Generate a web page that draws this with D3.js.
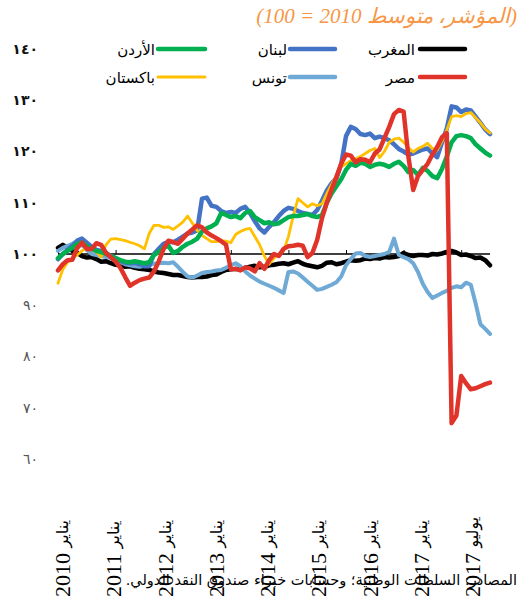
<!DOCTYPE html>
<html><head><meta charset="utf-8">
<script src="https://cdn.jsdelivr.net/npm/d3@7/dist/d3.min.js"></script>
<style>body{margin:0;background:#fff}svg{display:block}</style>
</head><body>
<svg id="c" width="520" height="603"></svg>
<script>
// ---- data (monthly index, Jan 2010 = first point, 2010 average = 100) ----
const morocco = [101.2,101.8,101.2,100.6,100.2,99.6,99.3,99.4,99.0,98.5,98.6,98.2,97.9,97.8,97.5,97.6,97.3,97.1,97.0,96.9,96.6,96.4,96.3,96.1,95.9,95.9,95.7,95.5,95.4,95.5,95.5,95.6,95.9,96.0,96.5,96.9,97.0,97.1,97.0,97.3,97.5,97.7,97.4,97.5,97.8,97.9,98.1,98.2,98.0,98.3,98.6,98.1,97.8,97.6,97.4,97.7,98.3,98.4,98.0,98.2,98.5,98.8,98.7,98.8,99.1,99.0,99.2,99.1,99.4,99.3,99.4,99.6,100.2,99.8,99.6,99.8,99.8,99.7,100.0,99.9,100.1,100.4,100.6,100.3,99.8,99.9,99.6,99.2,99.3,98.8,97.8];
const tunisia = [100.6,101.2,101.6,102.0,102.5,101.8,100.8,100.0,99.8,99.6,99.4,99.2,98.8,98.4,98.0,97.8,97.6,97.5,97.7,97.9,98.1,98.2,98.3,98.2,98.4,97.5,96.5,95.6,95.4,95.8,96.3,96.5,96.6,96.8,96.9,97.3,97.8,98.2,97.6,96.6,95.8,95.2,94.6,94.2,93.8,93.4,92.9,92.4,96.5,96.6,96.2,95.4,94.6,93.8,93.0,93.2,93.6,94.0,94.5,95.6,97.8,99.0,100.1,100.2,99.6,99.4,99.6,99.8,100.0,100.4,103.0,99.8,99.4,99.0,98.2,96.5,94.2,92.6,91.4,91.9,92.4,92.8,93.4,93.7,93.5,94.4,94.0,90.4,86.3,85.4,84.4];
const pakistan = [94.3,97.0,98.4,99.2,99.8,100.6,101.2,100.8,100.4,99.4,101.8,102.9,103.0,102.8,102.6,102.3,102.0,101.6,101.0,104.0,105.6,105.6,105.2,105.3,104.8,105.5,106.2,107.4,106.0,104.6,103.6,103.0,102.4,102.4,102.6,102.5,102.2,103.8,104.4,104.8,105.0,103.4,101.8,99.6,98.0,99.2,100.0,100.6,103.4,107.4,110.8,110.0,109.2,109.8,109.4,109.8,111.8,113.6,115.4,117.0,117.6,118.2,118.6,119.0,119.6,120.2,120.6,118.8,120.0,121.8,122.4,122.6,121.8,120.8,119.9,120.6,121.0,121.6,120.6,120.3,122.0,124.2,126.8,127.0,126.8,127.4,127.6,126.6,125.6,124.4,123.6];
const lebanon = [99.0,100.0,100.8,101.6,102.6,103.0,102.2,101.4,100.8,100.6,100.2,99.6,99.2,98.6,98.3,98.2,98.3,98.0,97.6,97.6,100.0,101.0,102.0,102.4,102.3,102.8,103.4,104.0,104.2,104.6,110.8,111.0,109.4,109.2,108.4,108.0,108.2,108.0,108.8,109.2,108.0,106.4,105.0,104.2,105.3,106.2,107.4,108.4,109.0,108.8,108.4,108.0,107.8,107.6,108.6,110.4,112.4,113.8,114.8,117.5,123.0,124.8,124.4,123.4,123.2,123.5,122.6,122.9,122.6,122.2,121.4,120.5,120.0,119.4,119.6,120.0,120.4,120.6,119.6,118.9,121.8,124.5,128.8,128.6,127.7,128.2,128.0,126.8,125.6,124.3,123.4];
const jordan = [99.2,100.0,100.6,101.2,102.0,102.2,101.6,101.0,100.6,100.4,100.0,99.6,99.2,98.8,98.5,98.4,98.6,98.4,98.2,98.4,99.8,100.4,101.2,101.6,100.2,100.6,101.4,102.0,102.4,103.0,104.4,105.0,105.4,106.0,108.0,107.6,107.2,107.4,107.0,108.0,108.4,107.2,106.6,106.0,106.2,105.8,106.0,106.6,107.2,107.4,107.4,107.6,107.8,107.4,107.2,107.6,110.0,111.8,113.2,114.6,116.4,117.6,117.2,117.8,117.6,117.0,117.4,117.6,117.4,117.0,117.6,118.0,117.2,116.0,116.4,115.4,116.8,116.2,115.2,114.8,116.6,119.0,121.8,123.0,123.2,123.0,122.6,121.4,120.6,119.8,119.2];
const egypt = [96.8,98.0,98.8,98.9,101.2,102.2,101.0,101.0,102.1,101.8,100.2,99.4,98.5,97.3,95.5,93.8,94.4,94.9,95.2,95.4,96.6,98.6,101.0,102.6,102.3,102.0,103.0,104.0,104.8,105.6,105.2,104.2,103.6,103.1,102.5,101.8,97.0,97.1,96.8,97.4,97.2,96.6,98.2,97.1,98.8,100.0,99.6,101.0,101.5,101.6,101.8,101.6,99.4,100.2,102.8,107.0,110.0,112.6,115.0,117.6,119.4,119.2,117.9,118.5,118.4,117.9,119.6,120.4,122.6,124.8,127.3,128.1,127.8,119.0,112.5,115.2,116.4,117.6,119.4,120.9,122.8,123.6,67.0,68.5,76.2,74.8,73.6,73.8,74.2,74.6,74.9];

const seriesNames = ["المغرب","لبنان","الأردن","مصر","تونس","باكستان"];
const xLabelMonths = ["يناير","يناير","يناير","يناير","يناير","يناير","يناير","يناير","يوليو"];
const xLabelYears = ["2010","2011","2012","2013","2014","2015","2016","2017","2017"];
const yTicks = [60,70,80,90,100,110,120,130,140];
const title = "(المؤشر، متوسط 2010 = 100)";
const source = "المصادر: السلطات الوطنية؛ وحسابات خبراء صندوق النقد الدولي.";

// ---- drawing ----
const svg = d3.select("#c");
const n = morocco.length;
const x = d3.scaleLinear().domain([0, n-1]).range([58, 490]);
const y = d3.scaleLinear().domain([60, 140]).range([459, 49]);
const xl = d3.scalePoint().domain(d3.range(xLabelYears.length)).range([62, 472]);
const arDigits = s => String(s).replace(/[0-9]/g, d => "٠١٢٣٤٥٦٧٨٩"[+d]);

// title
svg.append("text").attr("x", 517).attr("y", 23).attr("text-anchor", "end")
  .attr("font-family", "Liberation Serif, DejaVu Sans").attr("font-style", "italic")
  .attr("font-size", 21).attr("fill", "#F79646").text(title);

// y tick labels
const yAxis = d3.axisLeft(y).tickValues(yTicks).tickSize(0).tickFormat(arDigits);
const gy = svg.append("g").attr("transform", "translate(38,0)").call(yAxis);
gy.select(".domain").remove();
gy.selectAll("text").attr("font-family", "DejaVu Sans").attr("font-size", 14)
  .attr("font-weight", d => d >= 100 ? "bold" : "normal")
  .attr("fill", d => d >= 100 ? "#111" : "#555").attr("x", 0);

// reference line at 100 with yearly ticks
const gx = svg.append("g").attr("transform", `translate(0,${y(100)})`)
  .call(d3.axisTop(x).tickValues(d3.range(0, n, 12)).tickSize(4).tickFormat(""));
gx.select(".domain").attr("d", `M${x(0)},0H${x(n-1)}`).attr("stroke", "#000").attr("stroke-width", 1.5);
gx.selectAll(".tick line").attr("stroke", "#000").attr("stroke-width", 1);

// series
const colors = {morocco:"#000000", lebanon:"#4472C4", jordan:"#00B050", egypt:"#E0342B", tunisia:"#6FAAD6", pakistan:"#FFC000"};
const widths = {morocco:4.5, lebanon:4.5, jordan:4.5, egypt:4.5, tunisia:4, pakistan:2.8};
const line = d3.line().x((d,i) => x(i)).y(d => y(d));
const order = [["morocco",morocco],["tunisia",tunisia],["lebanon",lebanon],["pakistan",pakistan],["jordan",jordan],["egypt",egypt]];
order.forEach(([k, data]) => {
  svg.append("path").datum(data).attr("d", line).attr("fill", "none")
    .attr("stroke", colors[k]).attr("stroke-width", widths[k])
    .attr("stroke-linejoin", "round").attr("stroke-linecap", "round");
});

// legend
const legendKeys = ["morocco","lebanon","jordan","egypt","tunisia","pakistan"];
const legCols = [[420,465,415],[290,335,287],[158,205,155]];
const legRows = [49, 77];
legendKeys.forEach((k, i) => {
  const c = legCols[i % 3], r = legRows[Math.floor(i / 3)];
  svg.append("line").attr("x1", c[0]).attr("x2", c[1]).attr("y1", r).attr("y2", r)
    .attr("stroke", colors[k]).attr("stroke-width", k === "pakistan" ? 3 : 4.5).attr("stroke-linecap", "round");
  svg.append("text").attr("x", c[2]).attr("y", r + 1).attr("text-anchor", "end")
    .attr("dominant-baseline", "central").attr("font-family", "DejaVu Sans").attr("font-size", 15)
    .attr("fill", "#000").text(seriesNames[i]);
});

// x labels (rotated)
xLabelYears.forEach((yr, i) => {
  const t = svg.append("text").attr("transform", `translate(${xl(i)},597) rotate(-90)`)
    .attr("text-anchor", "start").attr("dominant-baseline", "central").attr("fill", "#000");
  t.append("tspan").attr("font-family", "Liberation Serif").attr("font-size", 22).text(yr + " ");
  t.append("tspan").attr("font-family", "DejaVu Sans").attr("font-size", 16).text(xLabelMonths[i]);
});

// source
svg.append("text").attr("x", 517).attr("y", 580).attr("direction", "rtl").style("unicode-bidi", "embed")
  .attr("text-anchor", "start").attr("dominant-baseline", "central")
  .attr("font-family", "DejaVu Sans").attr("font-size", 14.5).attr("fill", "#000").text(source);
</script>
</body></html>
